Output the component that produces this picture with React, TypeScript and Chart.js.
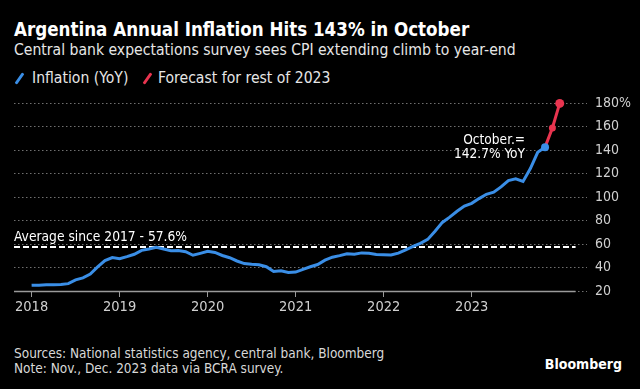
import React, { useEffect, useRef } from "react";
import { Chart, registerables } from "chart.js";

Chart.register(...registerables);

const titleText = "Argentina Annual Inflation Hits 143% in October";
const subtitleText = "Central bank expectations survey sees CPI extending climb to year-end";
const legendLabels = ["Inflation (YoY)", "Forecast for rest of 2023"];
const footerLines = [
  "Sources: National statistics agency, central bank, Bloomberg",
  "Note: Nov., Dec. 2023 data via BCRA survey.",
];

const months = [
  "2017-12",
  "2018-01", "2018-02", "2018-03", "2018-04", "2018-05", "2018-06", "2018-07", "2018-08", "2018-09", "2018-10", "2018-11", "2018-12",
  "2019-01", "2019-02", "2019-03", "2019-04", "2019-05", "2019-06", "2019-07", "2019-08", "2019-09", "2019-10", "2019-11", "2019-12",
  "2020-01", "2020-02", "2020-03", "2020-04", "2020-05", "2020-06", "2020-07", "2020-08", "2020-09", "2020-10", "2020-11", "2020-12",
  "2021-01", "2021-02", "2021-03", "2021-04", "2021-05", "2021-06", "2021-07", "2021-08", "2021-09", "2021-10", "2021-11", "2021-12",
  "2022-01", "2022-02", "2022-03", "2022-04", "2022-05", "2022-06", "2022-07", "2022-08", "2022-09", "2022-10", "2022-11", "2022-12",
  "2023-01", "2023-02", "2023-03", "2023-04", "2023-05", "2023-06", "2023-07", "2023-08", "2023-09", "2023-10",
];

const inflation = [
  24.8,
  25.0, 25.4, 25.4, 25.5, 26.3, 29.5, 31.2, 34.4, 40.5, 45.9, 48.5, 47.6,
  49.3, 51.3, 54.7, 55.8, 57.3, 55.8, 54.4, 54.5, 53.5, 50.5, 52.1, 53.8,
  52.9, 50.3, 48.4, 45.6, 43.4, 42.8, 42.4, 40.7, 36.6, 37.2, 35.8, 36.1,
  38.5, 40.7, 42.6, 46.3, 48.8, 50.2, 51.8, 51.4, 52.5, 52.1, 51.2, 50.9,
  50.7, 52.3, 55.1, 58.0, 60.7, 64.0, 71.0, 78.5, 83.0, 88.0, 92.4, 94.8,
  98.8, 102.5, 104.3, 108.8, 114.2, 115.6, 113.4, 124.4, 138.3, 142.7,
];

const forecastMonths = ["2023-10", "2023-11", "2023-12"];
const forecast = [142.7, 159, 180];

const yearTicks = [2018, 2019, 2020, 2021, 2022, 2023];
const valueTicks = [20, 40, 60, 80, 100, 120, 140, 160, 180];

const averageValue = 57.6;
const averageLabel = "Average since 2017 - 57.6%";
const calloutLines = ["October.=", "142.7% YoY"];

const xMin = 2017.8;
const xMax = 2024.31;
const axisEnd = 2024.18;

const BLUE = "#3a8ee6";
const RED = "#e8344f";
const FONT = "'DejaVu Sans Condensed', 'DejaVu Sans', sans-serif";

// month-end position as decimal year
const toX = (m: string) => {
  const [y, mo] = m.split("-").map(Number);
  return y + mo / 12;
};

const overlayPlugin = {
  id: "overlay",
  beforeDatasetsDraw(chart: any) {
    const { ctx, chartArea, scales } = chart;
    const xs = scales.x;
    const ys = scales.y;
    const endX = xs.getPixelForValue(axisEnd);
    ctx.save();
    // baseline
    const by = Math.round(ys.getPixelForValue(valueTicks[0])) + 0.5;
    ctx.strokeStyle = "#9a9a9a";
    ctx.lineWidth = 1.5;
    ctx.beginPath();
    ctx.moveTo(chartArea.left, by);
    ctx.lineTo(endX, by);
    ctx.stroke();
    // average dashed line
    const ay = ys.getPixelForValue(averageValue);
    ctx.strokeStyle = "#ffffff";
    ctx.lineWidth = 2;
    ctx.setLineDash([6, 3]);
    ctx.beginPath();
    ctx.moveTo(chartArea.left, ay);
    ctx.lineTo(endX, ay);
    ctx.stroke();
    ctx.setLineDash([]);
    ctx.fillStyle = "#ffffff";
    ctx.font = "13.7px " + FONT;
    ctx.textAlign = "left";
    ctx.textBaseline = "alphabetic";
    ctx.fillText(averageLabel, chartArea.left, ay - 6);
    ctx.restore();
  },
  afterDatasetsDraw(chart: any) {
    const { ctx, scales } = chart;
    const xs = scales.x;
    const ys = scales.y;
    const last = inflation.length - 1;
    const px = xs.getPixelForValue(toX(months[last]));
    const py = ys.getPixelForValue(inflation[last]);
    ctx.save();
    ctx.fillStyle = "#ffffff";
    ctx.font = "13.6px " + FONT;
    ctx.textAlign = "right";
    ctx.textBaseline = "alphabetic";
    ctx.fillText(calloutLines[0], px - 20, py - 3);
    ctx.fillText(calloutLines[1], px - 20, py + 11);
    ctx.restore();
  },
};

export default function App() {
  const canvasRef = useRef<HTMLCanvasElement | null>(null);

  useEffect(() => {
    const canvas = canvasRef.current;
    if (!canvas) return;
    const lastIdx = inflation.length - 1;
    const chart = new Chart(canvas, {
      type: "line",
      data: {
        datasets: [
          {
            label: legendLabels[0],
            data: months.map((m, i) => ({ x: toX(m), y: inflation[i] })),
            borderColor: BLUE,
            backgroundColor: BLUE,
            borderWidth: 3,
            pointRadius: inflation.map((_, i) => (i === lastIdx ? 4 : 0)),
            pointBorderWidth: 0,
            tension: 0,
            clip: false,
            order: 1,
          },
          {
            label: legendLabels[1],
            data: forecastMonths.map((m, i) => ({ x: toX(m), y: forecast[i] })),
            borderColor: RED,
            backgroundColor: RED,
            borderWidth: 3,
            pointRadius: [0, 3.5, 4.5],
            pointBorderWidth: 0,
            tension: 0,
            clip: false,
            order: 2,
          },
        ],
      },
      options: {
        animation: false,
        responsive: false,
        maintainAspectRatio: false,
        layout: { padding: { left: 14, top: 10, right: 0, bottom: 0 } },
        plugins: {
          legend: { display: false },
          tooltip: { enabled: false },
          title: { display: false },
        },
        scales: {
          x: {
            type: "linear",
            min: xMin,
            max: xMax,
            afterBuildTicks: (s: any) => {
              s.ticks = yearTicks.map((v) => ({ value: v }));
            },
            afterFit: (s: any) => {
              s.height = 30;
            },
            grid: {
              display: true,
              drawOnChartArea: false,
              drawTicks: true,
              tickLength: 6,
              color: "#9a9a9a",
              lineWidth: 1,
            },
            border: { display: false },
            ticks: {
              color: "#d0d0d0",
              font: { family: FONT, size: 14.5 },
              padding: 2,
              maxRotation: 0,
              autoSkip: false,
              callback: (v: any) => String(v),
            },
          },
          y: {
            type: "linear",
            position: "right",
            min: valueTicks[0],
            max: valueTicks[valueTicks.length - 1],
            afterBuildTicks: (s: any) => {
              s.ticks = valueTicks.map((v) => ({ value: v }));
            },
            afterFit: (s: any) => {
              s.width = 53;
            },
            grid: {
              color: "#707070",
              lineWidth: 1,
              drawTicks: false,
            },
            border: { display: false, dash: [1.5, 2.5] },
            ticks: {
              color: "#d0d0d0",
              font: { family: FONT, size: 14 },
              padding: 8,
              callback: (v: any) => (v === valueTicks[valueTicks.length - 1] ? v + "%" : String(v)),
            },
          },
        },
      },
      plugins: [overlayPlugin],
    });
    return () => chart.destroy();
  }, []);

  const slash = (color: string, ml: number, mr: number) => (
    <span
      style={{
        display: "inline-block",
        width: 3,
        height: 13,
        background: color,
        borderRadius: 1,
        transform: "rotate(35deg)",
        verticalAlign: "-2px",
        marginLeft: ml,
        marginRight: mr,
      }}
    />
  );

  return (
    <div
      style={{
        position: "fixed",
        left: 0,
        top: 0,
        width: 640,
        height: 389,
        background: "#000",
        overflow: "hidden",
        fontFamily: FONT,
      }}
    >
      <div
        style={{
          position: "absolute",
          left: 14,
          top: 20,
          fontSize: 18.6,
          lineHeight: "20px",
          fontWeight: "bold",
          color: "#ffffff",
          whiteSpace: "nowrap",
        }}
      >
        {titleText}
      </div>
      <div
        style={{
          position: "absolute",
          left: 14,
          top: 41,
          fontSize: 15.6,
          lineHeight: "18px",
          color: "#e6e6e6",
          whiteSpace: "nowrap",
        }}
      >
        {subtitleText}
      </div>
      <div
        style={{
          position: "absolute",
          left: 0,
          top: 69,
          width: 640,
          height: 18,
          fontSize: 15.6,
          lineHeight: "18px",
          color: "#e6e6e6",
          whiteSpace: "nowrap",
        }}
      >
        <span style={{ position: "absolute", left: 15, top: 0 }}>{slash(BLUE, 3, 0)}</span>
        <span style={{ position: "absolute", left: 32, top: 0 }}>{legendLabels[0]}</span>
        <span style={{ position: "absolute", left: 143, top: 0 }}>{slash(RED, 3, 0)}</span>
        <span style={{ position: "absolute", left: 158, top: 0 }}>{legendLabels[1]}</span>
      </div>
      <canvas
        ref={canvasRef}
        width={640}
        height={234}
        style={{ position: "absolute", left: 0, top: 87, width: 640, height: 234 }}
      />
      <div
        style={{
          position: "absolute",
          left: 14,
          top: 346,
          fontSize: 13.5,
          lineHeight: "15px",
          color: "#d8d8d8",
          whiteSpace: "nowrap",
        }}
      >
        <div>{footerLines[0]}</div>
        <div>{footerLines[1]}</div>
      </div>
      <div
        style={{
          position: "absolute",
          right: 18,
          top: 356,
          fontSize: 14,
          lineHeight: "16px",
          fontWeight: "bold",
          color: "#ffffff",
          whiteSpace: "nowrap",
        }}
      >
        Bloomberg
      </div>
    </div>
  );
}
